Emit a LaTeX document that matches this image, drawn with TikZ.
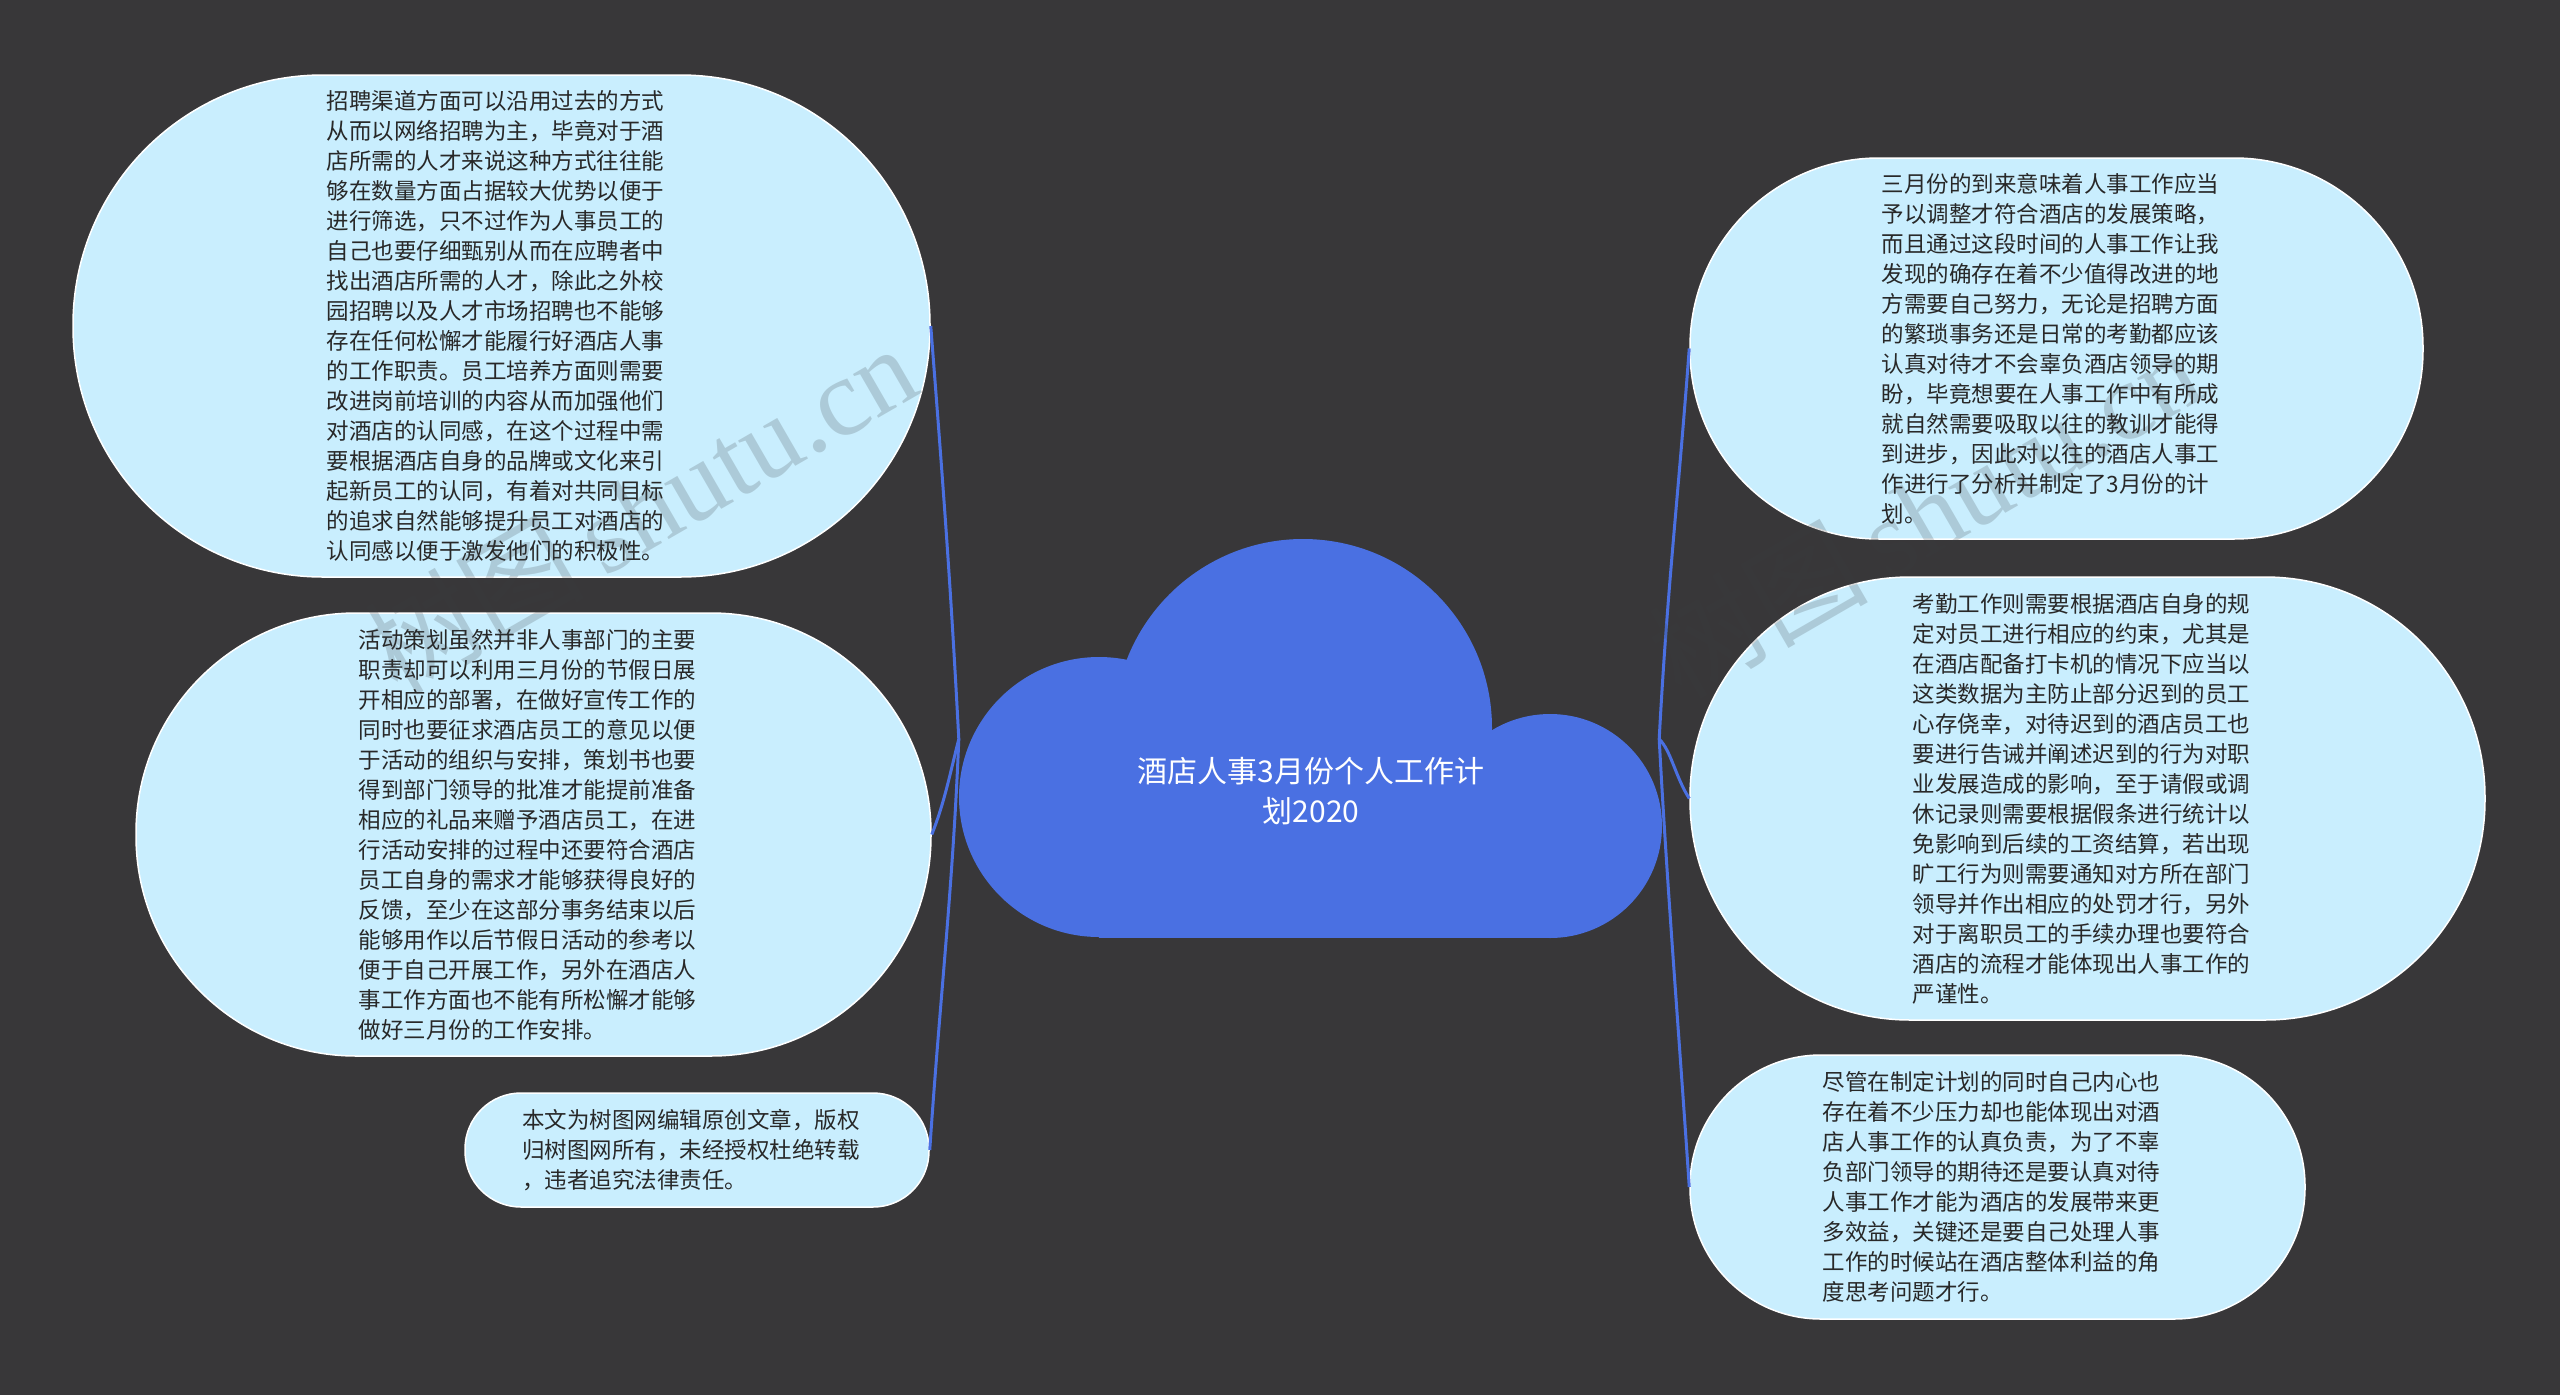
\documentclass[tikz,border=0pt]{standalone}
\usepackage{fontspec}
\setmainfont{Noto Sans CJK SC}
\newfontfamily\wmfont{Liberation Serif}
\newfontfamily\cjkwm{Noto Sans CJK SC}
\definecolor{bgc}{RGB}{56,55,57}
\definecolor{leafc}{RGB}{201,238,254}
\definecolor{inkc}{RGB}{40,40,40}
\definecolor{rootblue}{RGB}{74,112,226}
\definecolor{wmc}{RGB}{56,62,66}
\tikzset{
  leafbox/.style={draw=white, line width=1.5pt, fill=leafc, text=inkc, align=left,
    text width=350pt, inner sep=0pt, font=\fontsize{22.5pt}{30pt}\selectfont},
  link/.style={draw=rootblue, line width=3pt},
  titlebox/.style={text=white, align=center, inner sep=0pt,
    font=\fontsize{30pt}{40pt}\selectfont},
  wmark/.style={text=wmc, opacity=0.2, inner sep=0pt, font=\fontsize{110pt}{120pt}\selectfont}
}
\begin{document}
\begin{tikzpicture}[x=1pt,y=-1pt]
\fill[bgc] (0,0) rectangle (2560,1395);
\useasboundingbox (0,0) rectangle (2560,1395);

% cloud
\fill[rootblue] (1099,797) circle[radius=140pt];
\fill[rootblue] (1303,728) circle[radius=189pt];
\fill[rootblue] (1550,826) circle[radius=112pt];
\fill[rootblue] (1099,760) rectangle (1550,938);
\node[minimum width=700pt, minimum height=400pt, inner sep=0pt] (root) at (1309,739) {};
\node[titlebox] (title) at (1311,791) {酒店人事3月份个人工作计\\划2020};
\coordinate (jl) at (root.west);
\coordinate (jr) at (root.east);

% left nodes
\node[leafbox, minimum width=857pt, minimum height=502pt, rounded corners=250pt] (n1) at (501.5,326) {招聘渠道方面可以沿用过去的方式\\从而以网络招聘为主，毕竟对于酒\\店所需的人才来说这种方式往往能\\够在数量方面占据较大优势以便于\\进行筛选，只不过作为人事员工的\\自己也要仔细甄别从而在应聘者中\\找出酒店所需的人才，除此之外校\\园招聘以及人才市场招聘也不能够\\存在任何松懈才能履行好酒店人事\\的工作职责。员工培养方面则需要\\改进岗前培训的内容从而加强他们\\对酒店的认同感，在这个过程中需\\要根据酒店自身的品牌或文化来引\\起新员工的认同，有着对共同目标\\的追求自然能够提升员工对酒店的\\认同感以便于激发他们的积极性。};

\node[leafbox, minimum width=795pt, minimum height=443pt, rounded corners=220pt] (n2) at (533.5,834.5) {活动策划虽然并非人事部门的主要\\职责却可以利用三月份的节假日展\\开相应的部署，在做好宣传工作的\\同时也要征求酒店员工的意见以便\\于活动的组织与安排，策划书也要\\得到部门领导的批准才能提前准备\\相应的礼品来赠予酒店员工，在进\\行活动安排的过程中还要符合酒店\\员工自身的需求才能够获得良好的\\反馈，至少在这部分事务结束以后\\能够用作以后节假日活动的参考以\\便于自己开展工作，另外在酒店人\\事工作方面也不能有所松懈才能够\\做好三月份的工作安排。};

\node[leafbox, minimum width=464pt, minimum height=114pt, rounded corners=56pt] (n3) at (697,1150) {本文为树图网编辑原创文章，版权\\归树图网所有，未经授权杜绝转载\\，违者追究法律责任。};

% right nodes
\node[leafbox, minimum width=733pt, minimum height=381pt, rounded corners=189pt] (n4) at (2056.5,348.5) {三月份的到来意味着人事工作应当\\予以调整才符合酒店的发展策略，\\而且通过这段时间的人事工作让我\\发现的确存在着不少值得改进的地\\方需要自己努力，无论是招聘方面\\的繁琐事务还是日常的考勤都应该\\认真对待才不会辜负酒店领导的期\\盼，毕竟想要在人事工作中有所成\\就自然需要吸取以往的教训才能得\\到进步，因此对以往的酒店人事工\\作进行了分析并制定了3月份的计\\划。};

\node[leafbox, minimum width=795pt, minimum height=443pt, rounded corners=220pt] (n5) at (2087.5,798.5) {考勤工作则需要根据酒店自身的规\\定对员工进行相应的约束，尤其是\\在酒店配备打卡机的情况下应当以\\这类数据为主防止部分迟到的员工\\心存侥幸，对待迟到的酒店员工也\\要进行告诫并阐述迟到的行为对职\\业发展造成的影响，至于请假或调\\休记录则需要根据假条进行统计以\\免影响到后续的工资结算，若出现\\旷工行为则需要通知对方所在部门\\领导并作出相应的处罚才行，另外\\对于离职员工的手续办理也要符合\\酒店的流程才能体现出人事工作的\\严谨性。};

\node[leafbox, minimum width=615pt, minimum height=264pt, rounded corners=131pt] (n6) at (1997.5,1187) {尽管在制定计划的同时自己内心也\\存在着不少压力却也能体现出对酒\\店人事工作的认真负责，为了不辜\\负部门领导的期待还是要认真对待\\人事工作才能为酒店的发展带来更\\多效益，关键还是要自己处理人事\\工作的时候站在酒店整体利益的角\\度思考问题才行。};

% connectors
\draw[link] (jl) .. controls +(-8,-150) and +(14,180) .. (n1.east);
\draw[link] (jl) .. controls +(-10,40) and +(12,-30) .. (n2.east);
\draw[link] (jl) .. controls +(-6,150) and +(10,-150) .. (n3.east);
\draw[link] (jr) .. controls +(8,-150) and +(-12,160) .. (n4.west);
\draw[link] (jr) .. controls +(12,12) and +(-14,-22) .. (n5.west);
\draw[link] (jr) .. controls +(8,150) and +(-10,-150) .. (n6.west);

% watermark
\node[wmark, rotate=30] (wm1) at (640,508) {{\cjkwm 树图}\,{\wmfont shutu.cn}};
\node[wmark, rotate=30] (wm2) at (1924,512) {{\cjkwm 树图}\,{\wmfont shutu.cn}};
\end{tikzpicture}
\end{document}
